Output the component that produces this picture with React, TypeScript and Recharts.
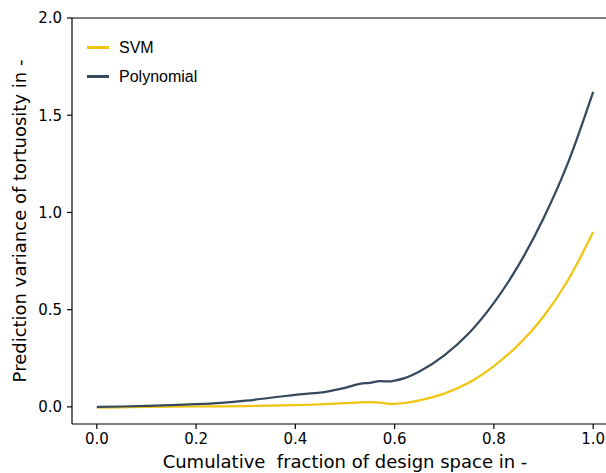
import { LineChart, Line, XAxis, YAxis, ReferenceLine } from 'recharts'

// sampled fraction of design space
const fractions = [0, 0.05, 0.1, 0.15, 0.2, 0.25, 0.3, 0.35, 0.4, 0.43, 0.45, 0.5, 0.53, 0.55, 0.57, 0.59, 0.6, 0.62, 0.65, 0.7, 0.75, 0.8, 0.85, 0.9, 0.95, 1.0]

const svmVariance = [-0.004, -0.002, 0.0, 0.001, 0.002, 0.003, 0.004, 0.006, 0.009, 0.011, 0.013, 0.019, 0.023, 0.024, 0.022, 0.016, 0.016, 0.02, 0.034, 0.068, 0.125, 0.21, 0.32, 0.465, 0.655, 0.9]

const polyVariance = [0.0, 0.002, 0.005, 0.009, 0.014, 0.021, 0.032, 0.047, 0.062, 0.07, 0.073, 0.098, 0.118, 0.124, 0.132, 0.131, 0.135, 0.148, 0.182, 0.265, 0.38, 0.535, 0.73, 0.97, 1.26, 1.62]

const xTicks = [0, 0.2, 0.4, 0.6, 0.8, 1.0]
const yTicks = [0, 0.5, 1.0, 1.5, 2.0]

const series = [
    { key: 'svm', name: 'SVM', color: '#f1c40f' },
    { key: 'poly', name: 'Polynomial', color: '#34495e' },
]

const data = fractions.map((x, i) => ({ x, svm: svmVariance[i], poly: polyVariance[i] }))

const tickStyle = { fontFamily: '"DejaVu Sans", sans-serif', fontSize: 15, fill: '#000' }
const titleStyle = { fontFamily: '"DejaVu Sans", sans-serif', fontSize: 18, fill: '#000' }

// legend sits inside the plot, upper left
function LegendBox() {
    return (
        <div style={{ position: 'absolute', left: 87, top: 33, fontFamily: '"Liberation Sans", Arial, sans-serif', fontSize: 16, color: '#000' }}>
            {series.map((s) => (
                <div key={s.key} style={{ display: 'flex', alignItems: 'center', height: 29 }}>
                    <span style={{ display: 'inline-block', width: 22, height: 2.25, background: s.color, marginRight: 10 }} />
                    <span>{s.name}</span>
                </div>
            ))}
        </div>
    )
}

export default function App() {
    return (
        <div style={{ position: 'absolute', left: 0, top: 0, width: 606, height: 473, overflow: 'hidden', background: '#fff' }}>
            <LineChart width={640} height={473} data={data} margin={{ top: 18, right: 22, bottom: 0, left: 0 }}>
                <XAxis
                    dataKey="x"
                    type="number"
                    domain={[-0.05, 1.05]}
                    ticks={xTicks}
                    tickFormatter={(v) => Number(v).toFixed(1)}
                    height={49}
                    tickSize={5}
                    tickMargin={4}
                    tick={tickStyle}
                    axisLine={{ stroke: '#000', strokeWidth: 1.2 }}
                    tickLine={{ stroke: '#000', strokeWidth: 1.2 }}
                    allowDataOverflow
                    label={{ value: 'Cumulative\u00a0 fraction of design space in -', position: 'insideBottom', offset: 5, style: titleStyle }}
                />
                <YAxis
                    type="number"
                    domain={[-0.088, 2.0]}
                    ticks={yTicks}
                    tickFormatter={(v) => Number(v).toFixed(1)}
                    width={72}
                    tickSize={5}
                    tickMargin={5}
                    tick={tickStyle}
                    axisLine={{ stroke: '#000', strokeWidth: 1.2 }}
                    tickLine={{ stroke: '#000', strokeWidth: 1.2 }}
                    allowDataOverflow
                    label={{ value: 'Prediction variance of tortuosity in -', angle: -90, position: 'insideLeft', offset: 20, style: { ...titleStyle, textAnchor: 'middle' } }}
                />
                {/* top and right spines */}
                <ReferenceLine y={2.0} stroke="#000" strokeWidth={1.2} />
                <ReferenceLine x={1.05} stroke="#000" strokeWidth={1.2} />
                {series.map((s) => (
                    <Line
                        key={s.key}
                        dataKey={s.key}
                        name={s.name}
                        type="monotone"
                        stroke={s.color}
                        strokeWidth={2.25}
                        dot={false}
                        isAnimationActive={false}
                    />
                ))}
            </LineChart>
            <LegendBox />
        </div>
    )
}
